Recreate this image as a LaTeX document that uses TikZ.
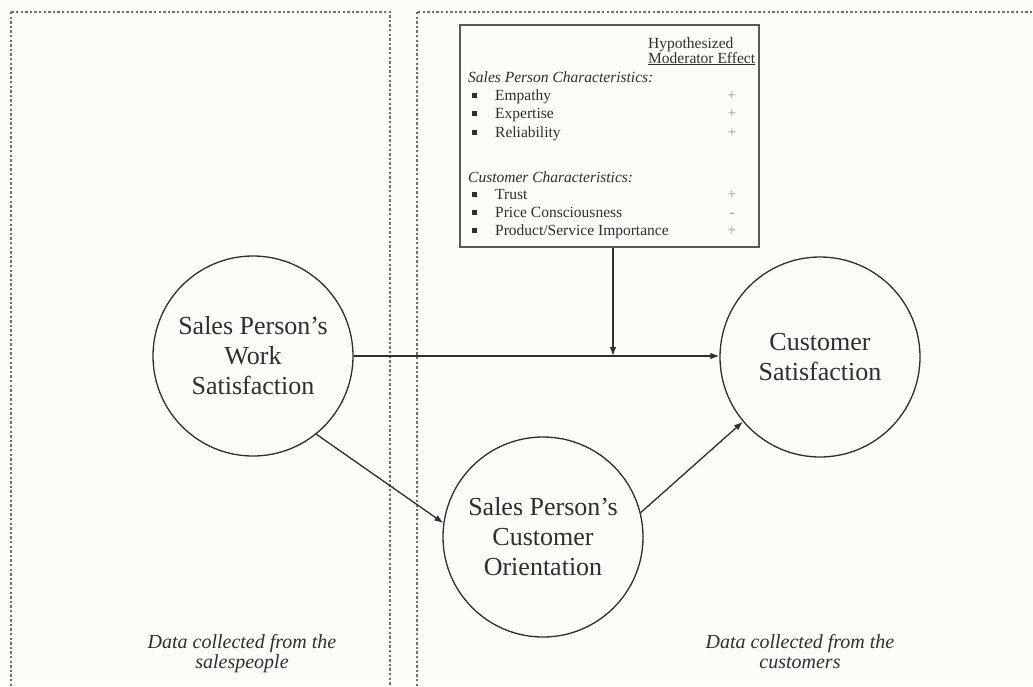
\documentclass[tikz,border=0pt]{standalone}
\usepackage{fontspec}
\setmainfont{Liberation Serif}
\usetikzlibrary{arrows.meta}
\definecolor{paper}{HTML}{FCFCF9}
\definecolor{ink}{HTML}{2F2F2F}
\definecolor{faint}{HTML}{9A9A9A}
\definecolor{dashgray}{HTML}{707070}
\tikzset{
  zone/.style={draw=dashgray, line width=1.1pt, dash pattern=on 2.4pt off 2.2pt},
  bubble/.style={circle, draw=ink, line width=1.3pt, minimum size=200pt, inner sep=0pt,
    align=center, text=ink, font=\fontsize{26}{30}\selectfont},
  modbox/.style={draw=ink!80, line width=1.6pt, minimum width=299pt, minimum height=222pt, inner sep=0pt},
  boxtext/.style={anchor=base west, inner sep=0pt, text=ink, font=\fontsize{15.5}{18}\selectfont},
  sign/.style={anchor=base, inner sep=0pt, text=faint, font=\fontsize{15.5}{18}\selectfont},
  zonelabel/.style={anchor=base, inner sep=0pt, text=ink, font=\fontsize{20}{20}\selectfont\itshape},
  link/.style={draw=ink, line width=1.3pt, -{Latex[length=9pt,width=6.5pt]}},
}
\newcommand{\sqbullet}{\rule[2.5pt]{4.5pt}{4.5pt}}
\begin{document}
\begin{tikzpicture}[x=1pt,y=-1pt]
  \useasboundingbox (0,0) rectangle (1033,686);
  \fill[paper] (0,0) rectangle (1033,686);

  % the two data-source zones, running off the lower and right edges
  \begin{scope}
    \clip (0,0) rectangle (1033,686);
    \draw[zone] (11,12) rectangle (390,720);
    \draw[zone] (417,12) rectangle (1070,720);
  \end{scope}

  % moderator table
  \node[modbox] (mod) at (609.5,136) {};
  \node[boxtext] (hyp) at (648,48) {Hypothesized};
  \node[boxtext] (me) at (648,63) {\underline{Moderator Effect}};
  \node[boxtext] (spc) at (468,82) {\itshape Sales Person Characteristics:};
  \node[boxtext] (b1) at (472,100) {\sqbullet};
  \node[boxtext] (i1) at (495,100) {Empathy};
  \node[sign] (s1) at (732,100) {+};
  \node[boxtext] (b2) at (472,118) {\sqbullet};
  \node[boxtext] (i2) at (495,118) {Expertise};
  \node[sign] (s2) at (732,118) {+};
  \node[boxtext] (b3) at (472,137) {\sqbullet};
  \node[boxtext] (i3) at (495,137) {Reliability};
  \node[sign] (s3) at (732,137) {+};
  \node[boxtext] (cc) at (468,182) {\itshape Customer Characteristics:};
  \node[boxtext] (b4) at (472,199) {\sqbullet};
  \node[boxtext] (i4) at (495,199) {Trust};
  \node[sign] (s4) at (732,199) {+};
  \node[boxtext] (b5) at (472,217) {\sqbullet};
  \node[boxtext] (i5) at (495,217) {Price Consciousness};
  \node[sign] (s5) at (732,217) {-};
  \node[boxtext] (b6) at (472,235) {\sqbullet};
  \node[boxtext] (i6) at (495,235) {Product/Service Importance};
  \node[sign] (s6) at (732,235) {+};

  % constructs
  \node[bubble] (ws) at (253,356) {Sales Person’s\\Work\\Satisfaction};
  \node[bubble] (cs) at (820,357) {Customer\\Satisfaction};
  \node[bubble] (co) at (543,537) {Sales Person’s\\Customer\\Orientation};

  % paths
  \coordinate (j) at (613,356);
  \draw[link] (ws.east |- j) -- (j -| cs.west);
  \draw[link] (mod.south -| j) -- (j);
  \draw[link] (ws.-51) -- (co.172);
  \draw[link] (co.14) -- (cs.220);

  % zone captions
  \node[zonelabel] (la) at (242,648) {Data collected from the};
  \node[zonelabel] (lb) at (242,668) {salespeople};
  \node[zonelabel] (ra) at (800,648) {Data collected from the};
  \node[zonelabel] (rb) at (800,668) {customers};
\end{tikzpicture}
\end{document}
